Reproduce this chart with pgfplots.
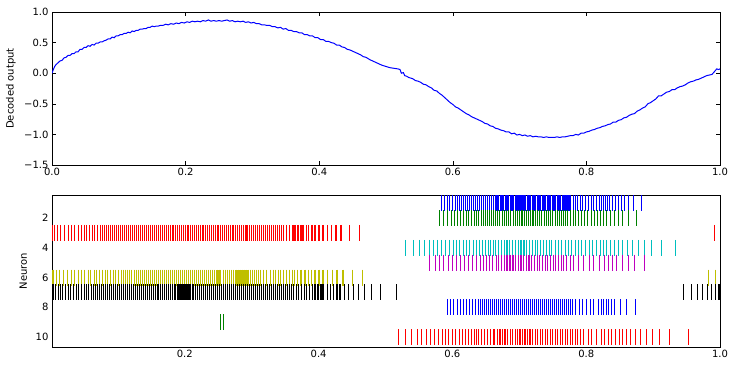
\documentclass[border=0pt]{standalone}
\usepackage{fontspec}
\setmainfont{DejaVu Sans}
\usepackage{pgfplots}
\pgfplotsset{compat=1.18}
\definecolor{mb}{rgb}{0,0,1}
\definecolor{mg}{rgb}{0,0.5,0}
\definecolor{mr}{rgb}{1,0,0}
\definecolor{mc}{rgb}{0,0.75,0.75}
\definecolor{mm}{rgb}{0.75,0,0.75}
\definecolor{my}{rgb}{0.75,0.75,0}
\pgfplotsset{
  every axis/.append style={scale only axis, font=\fontsize{10}{12}\selectfont,
    /pgf/number format/assume math mode=true,
    axis line style={line width=0.9pt}, tick style={line width=0.6pt,black},
    major tick length=4pt},
  spk/.style={only marks, mark=|, mark size=8pt, mark options={line width=1.05pt}},
}
\begin{document}
\begin{tikzpicture}[x=1pt,y=1pt]
\path[use as bounding box] (0,0) rectangle (735,368);
\begin{axis}[at={(52pt,203pt)}, anchor=south west, width=668pt, height=153pt,
  xmin=0, xmax=1, ymin=-1.5, ymax=1,
  xtick={0,0.2,0.4,0.6,0.8,1}, xticklabels={0.0,0.2,0.4,0.6,0.8,1.0},
  ytick={-1.5,-1,-0.5,0,0.5,1}, yticklabels={−1.5,−1.0,−0.5,0.0,0.5,1.0},
  ylabel={Decoded output},
  every axis y label/.style={at={(axis description cs:-0.0614,0.5)}, anchor=center, rotate=90},
]
\addplot[color=mb, line width=1pt] coordinates {
(0.000,0.00) (0.002,0.06) (0.004,0.11) (0.006,0.14) (0.009,0.17) (0.012,0.20) (0.015,0.21) (0.018,0.25) (0.021,0.26) (0.024,0.29) (0.027,0.29) (0.030,0.32) (0.033,0.32) (0.036,0.35) (0.039,0.35) (0.042,0.39) (0.045,0.39) (0.048,0.42) (0.051,0.42) (0.054,0.45) (0.057,0.44) (0.060,0.47) (0.063,0.46) (0.066,0.49) (0.069,0.49) (0.072,0.51) (0.075,0.51) (0.078,0.53) (0.081,0.54) (0.084,0.56) (0.087,0.56) (0.090,0.59) (0.093,0.58) (0.096,0.61) (0.099,0.61) (0.102,0.63) (0.105,0.63) (0.108,0.65) (0.111,0.65) (0.114,0.67) (0.117,0.66) (0.120,0.69) (0.123,0.68) (0.126,0.70) (0.129,0.70) (0.132,0.72) (0.135,0.72) (0.138,0.73) (0.141,0.73) (0.144,0.75) (0.147,0.75) (0.150,0.77) (0.153,0.76) (0.156,0.77) (0.159,0.77) (0.162,0.78) (0.166,0.78) (0.170,0.80) (0.174,0.79) (0.178,0.81) (0.182,0.80) (0.186,0.82) (0.190,0.81) (0.194,0.83) (0.198,0.82) (0.202,0.84) (0.206,0.83) (0.210,0.85) (0.214,0.84) (0.218,0.85) (0.222,0.84) (0.226,0.86) (0.230,0.85) (0.234,0.87) (0.238,0.85) (0.242,0.86) (0.246,0.85) (0.250,0.86) (0.254,0.85) (0.258,0.86) (0.262,0.87) (0.266,0.85) (0.270,0.86) (0.274,0.84) (0.278,0.85) (0.282,0.84) (0.286,0.85) (0.290,0.83) (0.294,0.84) (0.298,0.82) (0.302,0.83) (0.306,0.81) (0.310,0.81) (0.314,0.79) (0.318,0.79) (0.322,0.78) (0.326,0.78) (0.330,0.76) (0.334,0.76) (0.338,0.74) (0.342,0.75) (0.346,0.72) (0.350,0.73) (0.354,0.70) (0.358,0.70) (0.362,0.68) (0.366,0.68) (0.370,0.66) (0.374,0.66) (0.378,0.63) (0.382,0.63) (0.386,0.61) (0.390,0.61) (0.394,0.58) (0.398,0.58) (0.402,0.55) (0.406,0.55) (0.410,0.52) (0.414,0.52) (0.418,0.50) (0.422,0.49) (0.426,0.46) (0.430,0.46) (0.434,0.43) (0.438,0.42) (0.442,0.39) (0.446,0.38) (0.450,0.36) (0.454,0.34) (0.458,0.32) (0.462,0.30) (0.466,0.27) (0.470,0.26) (0.476,0.22) (0.482,0.19) (0.488,0.16) (0.494,0.13) (0.500,0.11) (0.506,0.09) (0.512,0.08) (0.518,0.07) (0.521,0.06) (0.523,0.00) (0.526,0.01) (0.528,-0.04) (0.531,-0.05) (0.534,-0.07) (0.537,-0.08) (0.540,-0.09) (0.544,-0.12) (0.548,-0.13) (0.552,-0.15) (0.556,-0.18) (0.560,-0.19) (0.564,-0.22) (0.568,-0.24) (0.572,-0.28) (0.576,-0.29) (0.580,-0.33) (0.584,-0.36) (0.588,-0.40) (0.592,-0.44) (0.596,-0.48) (0.600,-0.51) (0.604,-0.55) (0.608,-0.57) (0.612,-0.60) (0.616,-0.63) (0.620,-0.66) (0.624,-0.68) (0.628,-0.71) (0.632,-0.73) (0.636,-0.75) (0.640,-0.77) (0.644,-0.79) (0.648,-0.82) (0.652,-0.83) (0.656,-0.86) (0.660,-0.87) (0.664,-0.90) (0.668,-0.91) (0.672,-0.93) (0.676,-0.94) (0.680,-0.96) (0.684,-0.96) (0.688,-0.99) (0.692,-0.98) (0.696,-1.01) (0.700,-1.00) (0.704,-1.02) (0.708,-1.01) (0.712,-1.03) (0.716,-1.02) (0.720,-1.04) (0.724,-1.03) (0.728,-1.04) (0.732,-1.04) (0.736,-1.05) (0.740,-1.04) (0.744,-1.05) (0.748,-1.05) (0.752,-1.05) (0.756,-1.04) (0.760,-1.05) (0.764,-1.04) (0.768,-1.04) (0.772,-1.03) (0.776,-1.02) (0.780,-1.02) (0.784,-1.00) (0.788,-1.01) (0.792,-0.98) (0.796,-0.98) (0.800,-0.96) (0.804,-0.95) (0.808,-0.93) (0.812,-0.92) (0.816,-0.90) (0.820,-0.89) (0.824,-0.87) (0.828,-0.86) (0.832,-0.84) (0.836,-0.83) (0.840,-0.80) (0.844,-0.80) (0.848,-0.77) (0.852,-0.76) (0.856,-0.73) (0.860,-0.72) (0.864,-0.69) (0.868,-0.67) (0.872,-0.66) (0.876,-0.62) (0.880,-0.60) (0.884,-0.57) (0.888,-0.55) (0.892,-0.50) (0.896,-0.48) (0.900,-0.45) (0.904,-0.42) (0.908,-0.37) (0.912,-0.37) (0.916,-0.34) (0.920,-0.31) (0.924,-0.30) (0.928,-0.27) (0.932,-0.27) (0.936,-0.24) (0.940,-0.22) (0.944,-0.21) (0.948,-0.19) (0.952,-0.16) (0.956,-0.14) (0.960,-0.13) (0.964,-0.11) (0.968,-0.10) (0.972,-0.08) (0.976,-0.06) (0.980,-0.04) (0.984,-0.03) (0.988,-0.02) (0.992,0.03) (0.995,0.07) (0.998,0.06) (1.000,0.07)
};
\end{axis}
\begin{axis}[at={(52pt,21pt)}, anchor=south west, width=668pt, height=152pt,
  xmin=0.0015, xmax=1, ymin=0.45, ymax=10.67, y dir=reverse,
  xtick={0.2,0.4,0.6,0.8,1}, xticklabels={0.2,0.4,0.6,0.8,1.0},
  ytick={2,4,6,8,10}, yticklabels={2,4,6,8,10},
  major tick length=0pt,
  ylabel={Neuron},
  every axis y label/.style={at={(axis description cs:-0.043,0.5)}, anchor=center, rotate=90},
]
% neuron 1
\addplot[spk, mb] table[row sep=\\, y expr=1] {t\\0.5832\\0.5877\\0.5922\\0.5963\\0.5997\\0.6042\\0.6072\\0.6102\\0.6132\\0.6162\\0.6192\\0.6222\\0.6252\\0.6281\\0.6311\\0.6341\\0.6371\\0.6401\\0.6437\\0.6467\\0.6497\\0.6527\\0.6557\\0.6587\\0.6617\\0.6640\\0.6655\\0.6677\\0.6692\\0.6714\\0.6729\\0.6751\\0.6766\\0.6788\\0.6803\\0.6825\\0.6840\\0.6862\\0.6877\\0.6899\\0.6914\\0.6936\\0.6951\\0.6973\\0.6988\\0.7010\\0.7025\\0.7047\\0.7062\\0.7084\\0.7099\\0.7121\\0.7136\\0.7158\\0.7173\\0.7195\\0.7210\\0.7232\\0.7247\\0.7269\\0.7284\\0.7306\\0.7321\\0.7343\\0.7358\\0.7380\\0.7395\\0.7417\\0.7432\\0.7454\\0.7469\\0.7491\\0.7506\\0.7528\\0.7543\\0.7565\\0.7580\\0.7602\\0.7617\\0.7639\\0.7654\\0.7676\\0.7691\\0.7713\\0.7728\\0.7750\\0.7765\\0.7814\\0.7844\\0.7874\\0.7919\\0.7949\\0.7984\\0.8033\\0.8073\\0.8108\\0.8159\\0.8193\\0.8223\\0.8253\\0.8283\\0.8313\\0.8343\\0.8393\\0.8443\\0.8488\\0.8533\\0.8572\\0.8632\\0.8707\\0.8826\\};
% neuron 2
\addplot[spk, mg] table[row sep=\\, y expr=2] {t\\0.5802\\0.5862\\0.5922\\0.5982\\0.6027\\0.6072\\0.6117\\0.6162\\0.6207\\0.6237\\0.6281\\0.6326\\0.6356\\0.6386\\0.6431\\0.6461\\0.6491\\0.6521\\0.6551\\0.6581\\0.6611\\0.6644\\0.6677\\0.6710\\0.6743\\0.6776\\0.6809\\0.6842\\0.6875\\0.6908\\0.6941\\0.6974\\0.7007\\0.7040\\0.7073\\0.7106\\0.7139\\0.7172\\0.7205\\0.7238\\0.7271\\0.7304\\0.7337\\0.7370\\0.7403\\0.7436\\0.7469\\0.7502\\0.7535\\0.7568\\0.7601\\0.7634\\0.7667\\0.7692\\0.7725\\0.7769\\0.7808\\0.7844\\0.7883\\0.7934\\0.7973\\0.8024\\0.8073\\0.8118\\0.8168\\0.8208\\0.8258\\0.8303\\0.8363\\0.8423\\0.8483\\0.8543\\0.8632\\0.8751\\};
% neuron 3
\addplot[spk, mr] table[row sep=\\, y expr=3] {t\\0.002\\0.0054\\0.0099\\0.0144\\0.0204\\0.0263\\0.0308\\0.0353\\0.0413\\0.0458\\0.0503\\0.0533\\0.0578\\0.0623\\0.0653\\0.0698\\0.0743\\0.0772\\0.0802\\0.0832\\0.0862\\0.0892\\0.0922\\0.0952\\0.0982\\0.1012\\0.1042\\0.1072\\0.1102\\0.1132\\0.1162\\0.1192\\0.1222\\0.1252\\0.1282\\0.1312\\0.1342\\0.1372\\0.1402\\0.1432\\0.1462\\0.1492\\0.1522\\0.1552\\0.1582\\0.1612\\0.1642\\0.1670\\0.1698\\0.1726\\0.1754\\0.1782\\0.1810\\0.1838\\0.1866\\0.1894\\0.1922\\0.1950\\0.1978\\0.2006\\0.2034\\0.2062\\0.2090\\0.2118\\0.2146\\0.2174\\0.2202\\0.2230\\0.2258\\0.2286\\0.2314\\0.2342\\0.2370\\0.2398\\0.2426\\0.2454\\0.2482\\0.2510\\0.2538\\0.2566\\0.2594\\0.2622\\0.2650\\0.2678\\0.2706\\0.2734\\0.2762\\0.2790\\0.2818\\0.2846\\0.2874\\0.2902\\0.2930\\0.2960\\0.2990\\0.3020\\0.3050\\0.3080\\0.3110\\0.3140\\0.3170\\0.3200\\0.3230\\0.3268\\0.3298\\0.3328\\0.3358\\0.3388\\0.3418\\0.3448\\0.3478\\0.3527\\0.3572\\0.3617\\0.3647\\0.3692\\0.3737\\0.3767\\0.3812\\0.3856\\0.3901\\0.3946\\0.4006\\0.4066\\0.4126\\0.4186\\0.4260\\0.4335\\0.4455\\0.4605\\0.9920\\};
% neuron 4
\addplot[spk, mc] table[row sep=\\, y expr=4] {t\\0.5293\\0.5413\\0.5503\\0.5578\\0.5653\\0.5713\\0.5772\\0.5832\\0.5892\\0.5952\\0.6012\\0.6057\\0.6102\\0.6162\\0.6207\\0.6252\\0.6311\\0.6356\\0.6401\\0.6446\\0.6491\\0.6536\\0.6572\\0.6611\\0.6651\\0.6696\\0.6737\\0.6775\\0.6816\\0.6856\\0.6901\\0.6946\\0.6985\\0.7025\\0.7070\\0.7111\\0.7150\\0.7195\\0.7235\\0.7275\\0.7320\\0.7359\\0.7400\\0.7445\\0.7485\\0.7534\\0.7584\\0.7635\\0.7684\\0.7734\\0.7784\\0.7834\\0.7883\\0.7934\\0.7984\\0.8044\\0.8099\\0.8159\\0.8213\\0.8258\\0.8303\\0.8363\\0.8423\\0.8483\\0.8543\\0.8617\\0.8692\\0.8782\\0.8872\\0.8976\\0.9126\\0.9335\\};
% neuron 5
\addplot[spk, mm] table[row sep=\\, y expr=5] {t\\0.5653\\0.5743\\0.5802\\0.5862\\0.5937\\0.5997\\0.6057\\0.6117\\0.6177\\0.6237\\0.6296\\0.6356\\0.6416\\0.6461\\0.6506\\0.6551\\0.6596\\0.6656\\0.6696\\0.6737\\0.6775\\0.6816\\0.6861\\0.6906\\0.6946\\0.6985\\0.7025\\0.7066\\0.7105\\0.7145\\0.7186\\0.7225\\0.7265\\0.7305\\0.7344\\0.7385\\0.7425\\0.7464\\0.7504\\0.7545\\0.7584\\0.7624\\0.7665\\0.7710\\0.7759\\0.7808\\0.7883\\0.7958\\0.8043\\0.8108\\0.8193\\0.8272\\0.8332\\0.8392\\0.8452\\0.8542\\0.8632\\0.8722\\0.8871\\};
% neuron 6
\addplot[spk, my] table[row sep=\\, y expr=6] {t\\0.002\\0.0034\\0.0084\\0.0129\\0.0189\\0.0249\\0.0308\\0.0353\\0.0413\\0.0458\\0.0503\\0.0563\\0.0593\\0.0653\\0.0683\\0.0728\\0.0772\\0.0817\\0.0847\\0.0892\\0.0937\\0.0967\\0.1012\\0.1057\\0.1087\\0.1117\\0.1147\\0.1177\\0.1207\\0.1251\\0.1281\\0.1311\\0.1341\\0.1371\\0.1401\\0.1431\\0.1461\\0.1491\\0.1521\\0.1551\\0.1581\\0.1611\\0.1641\\0.1671\\0.1701\\0.1731\\0.1761\\0.1791\\0.1821\\0.1851\\0.1881\\0.1911\\0.1941\\0.1971\\0.2001\\0.2031\\0.2061\\0.2091\\0.2121\\0.2151\\0.2181\\0.2211\\0.2241\\0.2271\\0.2301\\0.2331\\0.2361\\0.2391\\0.2421\\0.2451\\0.2481\\0.2511\\0.2535\\0.2585\\0.2615\\0.2645\\0.2675\\0.2705\\0.2735\\0.2765\\0.2795\\0.2825\\0.2855\\0.2885\\0.2915\\0.2945\\0.2975\\0.3005\\0.3035\\0.3065\\0.3097\\0.3138\\0.3183\\0.3219\\0.3287\\0.3328\\0.3358\\0.3403\\0.3433\\0.3478\\0.3522\\0.3567\\0.3612\\0.3642\\0.3687\\0.3737\\0.3797\\0.3842\\0.3887\\0.3946\\0.4006\\0.4066\\0.4126\\0.4201\\0.4275\\0.4365\\0.4500\\0.4650\\0.9830\\0.9934\\};
% neuron 7
\addplot[spk, black] table[row sep=\\, y expr=7] {t\\0.0019\\0.0042\\0.0065\\0.0109\\0.0144\\0.0174\\0.0219\\0.0263\\0.0293\\0.0338\\0.0383\\0.0413\\0.0458\\0.0503\\0.0533\\0.0563\\0.0608\\0.0638\\0.0668\\0.0698\\0.0728\\0.0758\\0.0788\\0.0818\\0.0848\\0.0878\\0.0908\\0.0938\\0.0968\\0.0998\\0.1028\\0.1058\\0.1088\\0.1118\\0.1148\\0.1178\\0.1208\\0.1238\\0.1268\\0.1298\\0.1328\\0.1358\\0.1388\\0.1418\\0.1448\\0.1478\\0.1508\\0.1538\\0.1568\\0.1598\\0.1613\\0.1643\\0.1673\\0.1703\\0.1733\\0.1763\\0.1793\\0.1823\\0.1853\\0.1868\\0.1898\\0.1928\\0.1958\\0.1988\\0.2018\\0.2048\\0.2078\\0.2108\\0.2123\\0.2153\\0.2183\\0.2213\\0.2243\\0.2273\\0.2303\\0.2333\\0.2363\\0.2393\\0.2423\\0.2453\\0.2483\\0.2513\\0.2543\\0.2573\\0.2603\\0.2633\\0.2663\\0.2693\\0.2723\\0.2753\\0.2783\\0.2813\\0.2843\\0.2873\\0.2903\\0.2933\\0.2963\\0.2993\\0.3023\\0.3053\\0.3083\\0.3113\\0.3143\\0.3173\\0.3203\\0.3233\\0.3268\\0.3298\\0.3328\\0.3358\\0.3388\\0.3418\\0.3448\\0.3478\\0.3508\\0.3537\\0.3567\\0.3597\\0.3627\\0.3672\\0.3702\\0.3747\\0.3792\\0.3822\\0.3867\\0.3912\\0.3946\\0.3991\\0.4036\\0.4066\\0.4126\\0.4171\\0.4216\\0.4275\\0.4320\\0.4380\\0.4440\\0.4515\\0.4590\\0.4680\\0.4784\\0.4919\\0.5159\\0.9455\\0.9575\\0.9665\\0.9740\\0.9815\\0.9874\\0.9934\\0.9985\\};
% neuron 8
\addplot[spk, mb] table[row sep=\\, y expr=8] {t\\0.5922\\0.5973\\0.6022\\0.6072\\0.6117\\0.6162\\0.6207\\0.6252\\0.6296\\0.6341\\0.6386\\0.6416\\0.6446\\0.6476\\0.6506\\0.6536\\0.6566\\0.6596\\0.6626\\0.6656\\0.6686\\0.6716\\0.6746\\0.6776\\0.6806\\0.6836\\0.6866\\0.6896\\0.6926\\0.6956\\0.6986\\0.7016\\0.7046\\0.7076\\0.7106\\0.7136\\0.7166\\0.7196\\0.7226\\0.7256\\0.7286\\0.7316\\0.7346\\0.7376\\0.7406\\0.7436\\0.7466\\0.7496\\0.7526\\0.7556\\0.7586\\0.7616\\0.7646\\0.7676\\0.7706\\0.7736\\0.7766\\0.7796\\0.7834\\0.7898\\0.7949\\0.7999\\0.8058\\0.8108\\0.8183\\0.8228\\0.8263\\0.8298\\0.8332\\0.8373\\0.8422\\0.8512\\0.8602\\0.8737\\};
% neuron 9
\addplot[spk, mg] table[row sep=\\, y expr=9] {t\\0.2530\\0.2579\\};
% neuron 10
\addplot[spk, mr] table[row sep=\\, y expr=10] {t\\0.5189\\0.5293\\0.5383\\0.5473\\0.5533\\0.5608\\0.5668\\0.5727\\0.5787\\0.5847\\0.5892\\0.5937\\0.5997\\0.6042\\0.6102\\0.6147\\0.6192\\0.6237\\0.6281\\0.6326\\0.6356\\0.6386\\0.6431\\0.6476\\0.6521\\0.6566\\0.6611\\0.6636\\0.6677\\0.6711\\0.6751\\0.6786\\0.6826\\0.6865\\0.6901\\0.6936\\0.6976\\0.7010\\0.7051\\0.7085\\0.7126\\0.7160\\0.7201\\0.7235\\0.7275\\0.7310\\0.7350\\0.7385\\0.7425\\0.7460\\0.7500\\0.7534\\0.7575\\0.7609\\0.7650\\0.7684\\0.7725\\0.7759\\0.7793\\0.7834\\0.7874\\0.7919\\0.7964\\0.8033\\0.8084\\0.8148\\0.8223\\0.8272\\0.8332\\0.8383\\0.8433\\0.8493\\0.8542\\0.8602\\0.8662\\0.8737\\0.8811\\0.8901\\0.8991\\0.9096\\0.9246\\0.9530\\};
\end{axis}
\end{tikzpicture}
\end{document}
